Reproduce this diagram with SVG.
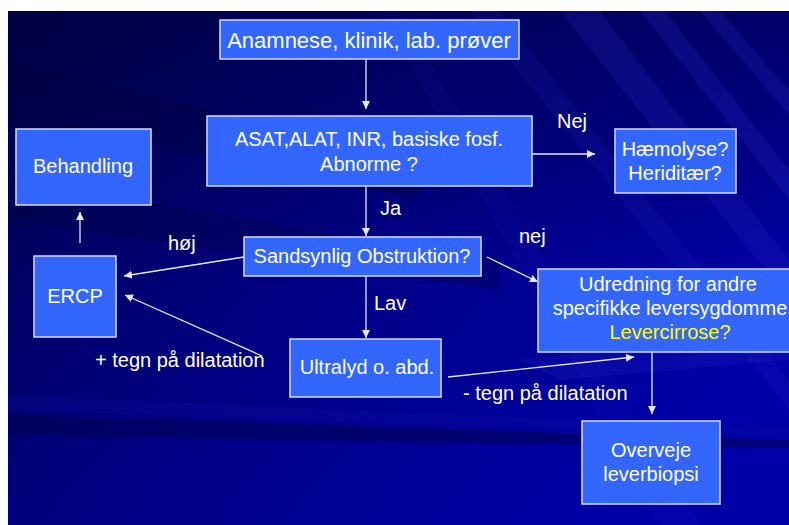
<svg xmlns="http://www.w3.org/2000/svg" width="789" height="525" viewBox="0 0 789 525">
<style>
.box{fill:#3366ff;stroke:#d4dcf4;stroke-width:1.5}
.t{font-family:"Liberation Sans",Arial,sans-serif;font-size:20px;fill:#ffffff;text-anchor:middle}
.lbl{font-family:"Liberation Sans",Arial,sans-serif;font-size:20px;fill:#ffffff}
.c{stroke:#e4e8f4;stroke-width:1.3;fill:none;marker-end:url(#ah)}
</style>
<defs>
<marker id="ah" viewBox="0 0 10 10" refX="10" refY="5" markerWidth="8" markerHeight="8" markerUnits="userSpaceOnUse" orient="auto">
<path d="M0,0 L10,5 L0,10 z" fill="#e4e8f4"/>
</marker>
<linearGradient id="bg" x1="0" y1="0" x2="1" y2="0.6">
<stop offset="0" stop-color="#000048"/>
<stop offset="0.45" stop-color="#00007e"/>
<stop offset="1" stop-color="#0000a8"/>
</linearGradient>
<linearGradient id="bg2" x1="0" y1="0" x2="0" y2="1">
<stop offset="0" stop-color="#000040" stop-opacity="0.5"/>
<stop offset="0.5" stop-color="#000040" stop-opacity="0"/>
</linearGradient>
</defs>
<rect x="0" y="0" width="789" height="525" fill="#ffffff"/>
<g id="background">
<rect x="8" y="11" width="781" height="514" fill="url(#bg)"/>
<rect x="8" y="11" width="781" height="514" fill="url(#bg2)"/>
<polygon points="8,60 420,160 420,200 8,120" fill="#000040" opacity="0.35"/>
<polygon points="8,180 500,260 500,290 8,220" fill="#000040" opacity="0.3"/>
<polygon points="8,415 789,440 789,448 8,435" fill="#000050" opacity="0.55"/>
<polygon points="8,395 789,430 789,436 8,410" fill="#1010a0" opacity="0.25"/>
<polygon points="560,11 600,11 789,260 789,300" fill="#3030d0" opacity="0.18"/>
<polygon points="640,11 665,11 789,170 789,200" fill="#3030d0" opacity="0.2"/>
<polygon points="700,11 720,11 789,90 789,115" fill="#3030d0" opacity="0.2"/>
<polygon points="470,11 500,11 789,380 789,410" fill="#2828c8" opacity="0.14"/>
<polygon points="380,11 400,11 700,525 660,525" fill="#2020b8" opacity="0.1"/>
<polygon points="520,360 789,330 789,360 560,380" fill="#4040e0" opacity="0.12"/>
</g>
<g id="connectors">
<line class="c" x1="366" y1="59" x2="366" y2="109"/>
<line class="c" x1="532" y1="154" x2="595" y2="154"/>
<line class="c" x1="366" y1="186" x2="366" y2="236"/>
<line class="c" x1="80" y1="243" x2="80" y2="212"/>
<line class="c" x1="244" y1="257" x2="124" y2="276"/>
<line class="c" x1="487" y1="257" x2="538" y2="282"/>
<line class="c" x1="366" y1="276" x2="366" y2="338"/>
<line class="c" x1="262" y1="356" x2="125" y2="295"/>
<line class="c" x1="448" y1="377" x2="634" y2="357"/>
<line class="c" x1="652" y1="352" x2="652" y2="414"/>
<text class="lbl" x="557" y="128">Nej</text>
<text class="lbl" x="380" y="215">Ja</text>
<text class="lbl" x="168" y="250">høj</text>
<text class="lbl" x="519" y="243">nej</text>
<text class="lbl" x="374" y="310">Lav</text>
<text class="lbl" x="95" y="367">+ tegn på dilatation</text>
<text class="lbl" x="463" y="400">- tegn på dilatation</text>
</g>
<g id="anamnese">
<rect class="box" x="220" y="20" width="299" height="39"/>
<text class="t" x="369" y="48" style="font-size:22px">Anamnese, klinik, lab. prøver</text>
</g>
<g id="asat">
<rect class="box" x="207" y="116" width="325" height="70"/>
<text class="t" x="369" y="146">ASAT,ALAT, INR, basiske fosf.</text>
<text class="t" x="369" y="171">Abnorme ?</text>
</g>
<g id="haemolyse">
<rect class="box" x="615" y="129" width="121" height="64"/>
<text class="t" x="675" y="156">Hæmolyse?</text>
<text class="t" x="675" y="180">Heriditær?</text>
</g>
<g id="behandling">
<rect class="box" x="16" y="129" width="135" height="76"/>
<text class="t" x="83" y="173">Behandling</text>
</g>
<g id="ercp">
<rect class="box" x="34" y="256" width="82" height="81"/>
<text class="t" x="75" y="303">ERCP</text>
</g>
<g id="sandsynlig">
<rect class="box" x="244" y="237" width="237" height="39"/>
<text class="t" x="362" y="263">Sandsynlig Obstruktion?</text>
</g>
<g id="ultralyd">
<rect class="box" x="290" y="339" width="151" height="58"/>
<text class="t" x="367" y="374">Ultralyd o. abd.</text>
</g>
<g id="udredning">
<rect class="box" x="538" y="269" width="255" height="83"/>
<text class="t" x="668" y="291">Udredning for andre</text>
<text class="t" x="670" y="315">specifikke leversygdomme</text>
<text class="t" x="670" y="339" style="fill:#ffff00">Levercirrose?</text>
</g>
<g id="overveje">
<rect class="box" x="582" y="421" width="138" height="83"/>
<text class="t" x="651" y="457">Overveje</text>
<text class="t" x="651" y="481">leverbiopsi</text>
</g>
</svg>
